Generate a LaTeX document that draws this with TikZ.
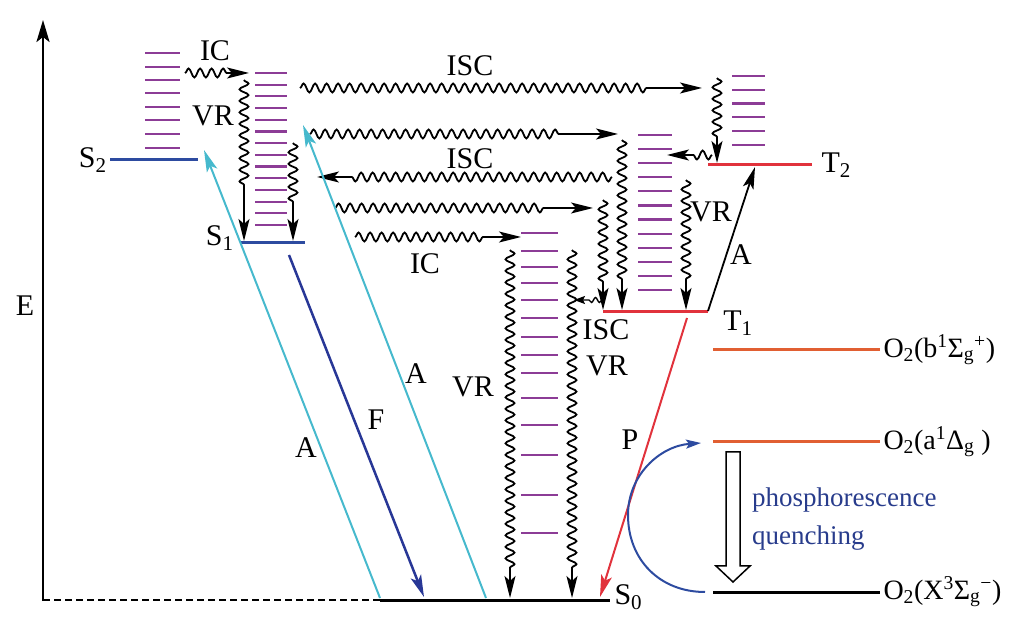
\documentclass[tikz,border=0pt]{standalone}
\usepackage{fontspec}
\setmainfont{Liberation Serif}
\usetikzlibrary{arrows.meta,decorations.pathmorphing}
\definecolor{vibcol}{RGB}{140,60,150}
\definecolor{singcol}{RGB}{45,75,160}
\definecolor{tripcol}{RGB}{225,50,60}
\definecolor{oxcol}{RGB}{225,95,50}
\definecolor{abscol}{RGB}{70,185,205}
\definecolor{fluocol}{RGB}{40,55,150}
\definecolor{quenchcol}{RGB}{40,60,140}

\begin{document}
\begin{tikzpicture}[x=1pt,y=-1pt,>={Stealth[length=22pt,width=11pt,inset=5pt]},
  font=\fontsize{30}{34}\selectfont,line cap=butt,
  level/.style={line width=3pt},
  vib/.style={vibcol,line width=2.2pt},
  wavy/.style={->,line width=1.8pt,decorate,
    decoration={snake,amplitude=4.5pt,segment length=11.5pt,post length=#1}},
  wavy/.default=40pt,
  lbl/.style={inner sep=0pt}]
\useasboundingbox (0,0) rectangle (1029,617);
% energy axis
\draw[->,line width=2.5pt,>={Stealth[length=22pt,width=13pt,inset=5pt]}] (43,601) -- (43,20);
\node[lbl] (E) at (25,306) {E};
\draw[dash pattern=on 7pt off 4pt,line width=1.2pt] (43,600) -- (380,600);
% vibrational levels
\foreach \y in {53,67,80,93,107,120,134,148}
  \draw[vib] (145,\y) -- (180,\y);
\foreach \i in {0,...,13}
  \draw[vib] (255,{73+11.7*\i}) -- (287,{73+11.7*\i});
\foreach \i in {0,...,5}
  \draw[vib] (732,{76+13.8*\i}) -- (765,{76+13.8*\i});
\foreach \i in {0,...,11}
  \draw[vib] (638,{135+14.1*\i}) -- (672,{135+14.1*\i});
\foreach \y in {233,251,267,283,300,318,337,355,373,398,425,455,495,533}
  \draw[vib] (521,\y) -- (558,\y);
% electronic levels
\draw[level,singcol] (110,160) -- (198,160) node[lbl,left=2pt,black] (S2) at (110,160) {S\textsubscript{2}};
\draw[level,singcol] (240,243) -- (305,243) node[lbl,anchor=east,black] (S1) at (235,238) {S\textsubscript{1}};
\draw[level,tripcol] (708,165) -- (812,165) node[lbl,right=8pt,black] (T2) {T\textsubscript{2}};
\draw[level,tripcol] (603,312) -- (708,312) node[lbl,black] (T1) at (738,323) {T\textsubscript{1}};
\draw[level] (380,600) -- (610,600) node[lbl,anchor=west] (S0) at (613,597) {S\textsubscript{0}};
\draw[level,oxcol] (713,350) -- (880,350) node[lbl,right=2pt,black,font=\fontsize{28}{32}\selectfont] (O2b) {O\textsubscript{2}(b\textsuperscript{1}Σ\textsubscript{g}\textsuperscript{+})};
\draw[level,oxcol] (713,442) -- (880,442) node[lbl,right=2pt,black,font=\fontsize{28}{32}\selectfont] (O2a) {O\textsubscript{2}(a\textsuperscript{1}Δ\textsubscript{g} )};
\draw[level] (713,592) -- (880,592) node[lbl,right=2pt,black,font=\fontsize{28}{32}\selectfont] (O2X) {O\textsubscript{2}(X\textsuperscript{3}Σ\textsubscript{g}\textsuperscript{−})};
% arrow end points
\coordinate (ic1a) at (185,73);   \coordinate (ic1b) at (249,73);
\coordinate (vr1a) at (244,80);   \coordinate (vr1b) at (244,241);
\coordinate (vr2a) at (293,143);  \coordinate (vr2b) at (293,241);
\coordinate (isc1a) at (300,88);  \coordinate (isc1b) at (702,88);
\coordinate (vr3a) at (717,78);   \coordinate (vr3b) at (717,163);
\coordinate (ic2a) at (712,155);  \coordinate (ic2b) at (667,155);
\coordinate (isc2a) at (310,134); \coordinate (isc2b) at (618,134);
\coordinate (vr4a) at (622,140);  \coordinate (vr4b) at (622,310);
\coordinate (isc3a) at (612,177); \coordinate (isc3b) at (317,177);
\coordinate (isc4a) at (335,208); \coordinate (isc4b) at (593,208);
\coordinate (vr5a) at (603,200);  \coordinate (vr5b) at (603,310);
\coordinate (ic3a) at (355,237);  \coordinate (ic3b) at (521,237);
\coordinate (vr6a) at (510,250);  \coordinate (vr6b) at (510,598);
\coordinate (vr7a) at (572,250);  \coordinate (vr7b) at (572,598);
\coordinate (isc5a) at (602,300); \coordinate (isc5b) at (574,300);
\coordinate (vr8a) at (686,180);  \coordinate (vr8b) at (686,310);
% radiationless transitions
\draw[wavy=18pt] (ic1a) -- (ic1b);
\draw[wavy=55pt] (vr1a) -- (vr1b);
\draw[wavy=34pt] (vr2a) -- (vr2b);
\draw[wavy=50pt] (isc1a) -- (isc1b);
\draw[wavy=26pt] (vr3a) -- (vr3b);
\draw[wavy=22pt] (ic2a) -- (ic2b);
\draw[wavy=55pt] (isc2a) -- (isc2b);
\draw[wavy=26pt] (vr4a) -- (vr4b);
\draw[wavy=30pt] (isc3a) -- (isc3b);
\draw[wavy=45pt] (isc4a) -- (isc4b);
\draw[wavy=26pt] (vr5a) -- (vr5b);
\draw[wavy=34pt] (ic3a) -- (ic3b);
\draw[wavy=30pt] (vr6a) -- (vr6b);
\draw[wavy=30pt] (vr7a) -- (vr7b);
\draw[wavy=12pt,line width=1.4pt,decoration={amplitude=2.5pt,segment length=8pt},
  >={Stealth[length=11pt,width=8pt,inset=2pt]}] (isc5a) -- (isc5b);
\draw[wavy=28pt] (vr8a) -- (vr8b);
\node[lbl] (lic1) at (215,51) {IC};
\node[lbl] (lvr1) at (213,116) {VR};
\node[lbl] (lisc1) at (470,66) {ISC};
\node[lbl] (lisc2) at (470,159) {ISC};
\node[lbl] (lic2) at (425,264) {IC};
\node[lbl] (lvr2) at (473,387) {VR};
\node[lbl] (lvr3) at (607,366) {VR};
\node[lbl] (lisc3) at (606,330) {ISC};
\node[lbl] (lvr4) at (711,212) {VR};
% radiative transitions
\coordinate (a1a) at (380,598);  \coordinate (a1b) at (204,150);
\coordinate (a2a) at (486,598);  \coordinate (a2b) at (303,125);
\coordinate (fa) at (289,255);   \coordinate (fb) at (424,597);
\coordinate (a3a) at (708,311);  \coordinate (a3b) at (755,167);
\coordinate (pa) at (687,318);   \coordinate (pb) at (600,597);
\draw[->,abscol,line width=2pt] (a1a) -- (a1b);
\draw[->,abscol,line width=2pt] (a2a) -- (a2b);
\draw[->,fluocol,line width=2.5pt] (fa) -- (fb);
\draw[->,line width=1.8pt] (a3a) -- (a3b);
\draw[->,tripcol,line width=2pt] (pa) -- (pb);
\node[lbl] (la1) at (306,448) {A};
\node[lbl] (la2) at (416,374) {A};
\node[lbl] (lf) at (376,420) {F};
\node[lbl] (la3) at (741,255) {A};
\node[lbl] (lp) at (630,440) {P};
% energy transfer to oxygen
\coordinate (qa) at (705,592); \coordinate (qb) at (701,443);
\draw[->,singcol,line width=2pt,>={Stealth[length=15pt,width=9pt,inset=3pt]}]
  (qa) .. controls (660,592) and (628,560) .. (628,515)
  .. controls (628,475) and (660,446) .. (qb);
\draw[line width=1.5pt,fill=white] (726,452) -- (740,452) -- (740,566) -- (750,566)
  -- (733,582) -- (716,566) -- (726,566) -- cycle;
\node[lbl,anchor=west,align=left,quenchcol,font=\fontsize{27}{38}\selectfont] (quench) at (752,519)
  {phosphorescence\\quenching};
\end{tikzpicture}
\end{document}
